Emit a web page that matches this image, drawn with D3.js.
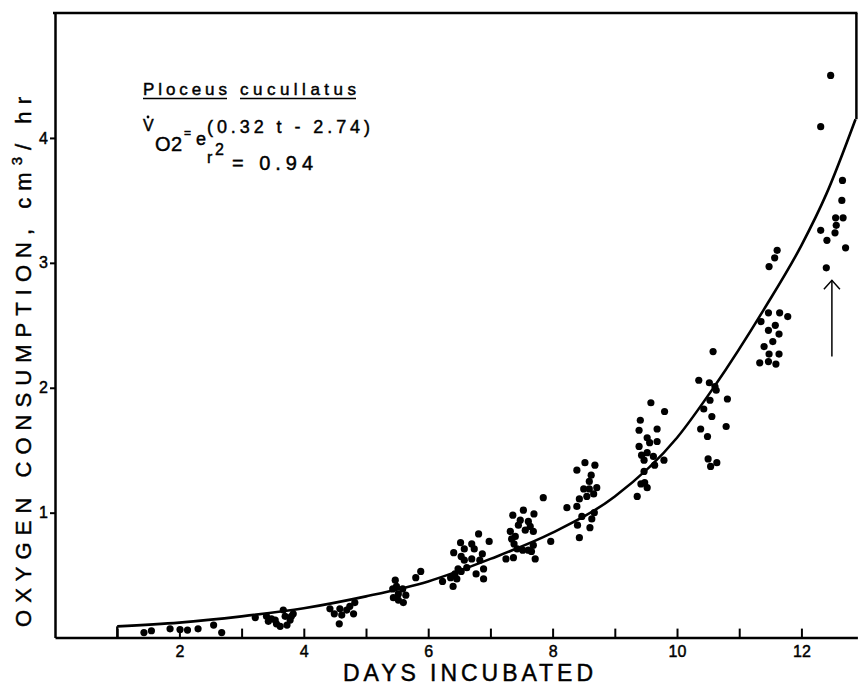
<!DOCTYPE html>
<html><head><meta charset="utf-8">
<script src="https://cdn.jsdelivr.net/npm/d3@7"></script>
<style>body{margin:0;background:#fff}svg{display:block}text{font-family:"Liberation Sans",Arial,sans-serif;fill:#000;stroke:#000;stroke-width:0.45px}</style>
</head><body><svg id="c" width="858" height="689"></svg>
<script>
// Measured points: day incubated
const days = [
  1.43,1.55,1.85,2.01,2.13,2.30,2.55,2.68,
  3.22,3.40,3.43,3.48,3.54,3.56,3.62,3.67,3.70,3.73,3.78,3.80,3.83,
  4.42,4.49,4.57,4.58,4.61,4.69,4.74,4.80,4.82,
  5.43,5.44,5.47,5.49,5.52,5.52,5.59,5.60,5.64,5.80,5.88,
  6.81,6.98,6.52,6.70,6.58,6.74,6.41,6.87,6.53,6.70,6.58,6.83,6.89,6.48,6.62,6.43,6.53,6.77,6.36,6.46,6.89,6.23,6.40,
  7.85,7.53,7.36,7.70,7.48,7.61,7.45,7.64,7.32,7.56,7.69,7.40,7.34,7.97,7.38,7.69,7.43,7.61,7.52,7.37,7.25,7.72,7.66,
  8.52,8.68,8.39,8.62,8.59,8.50,8.59,8.71,8.66,8.55,8.43,8.39,8.23,8.67,8.47,8.63,8.40,8.60,8.43,
  9.58,9.80,9.41,9.39,9.68,9.52,9.68,9.56,9.39,9.43,9.52,9.62,9.47,9.79,9.64,9.47,9.42,9.48,9.52,9.36,
  10.58,10.35,10.52,10.61,10.63,10.81,10.53,10.43,10.56,10.79,10.38,10.49,10.50,10.64,10.54,
  11.61,11.57,11.48,11.47,11.65,11.78,11.35,11.58,11.47,11.64,11.54,11.40,11.48,11.64,11.33,11.47,11.59,
  12.47,12.31,12.66,12.65,12.55,12.67,12.56,12.31,12.54,12.41,12.71,12.40
];
// Measured points: oxygen consumption (cm3/hr)
const oxygen = [
  0.04,0.055,0.07,0.065,0.06,0.07,0.10,0.04,
  0.16,0.17,0.13,0.15,0.14,0.11,0.09,0.22,0.17,0.10,0.14,0.17,0.19,
  0.23,0.19,0.11,0.23,0.18,0.22,0.25,0.19,0.28,
  0.39,0.32,0.46,0.41,0.35,0.30,0.39,0.28,0.34,0.48,0.53,
  0.83,0.77,0.76,0.75,0.71,0.71,0.68,0.67,0.65,0.63,0.62,0.62,0.55,0.55,0.56,0.51,0.53,0.51,0.48,0.47,0.47,0.45,0.41,
  1.12,1.02,0.98,0.99,0.94,0.93,0.90,0.89,0.85,0.86,0.85,0.81,0.79,0.77,0.75,0.74,0.71,0.70,0.70,0.64,0.63,0.63,0.69,
  1.40,1.38,1.34,1.30,1.25,1.19,1.19,1.20,1.15,1.13,1.11,1.05,1.04,1.00,0.97,0.95,0.90,0.88,0.80,
  1.88,1.81,1.74,1.66,1.67,1.60,1.57,1.56,1.53,1.46,1.48,1.45,1.42,1.42,1.38,1.33,1.23,1.24,1.20,1.13,
  2.29,2.06,2.04,2.01,1.98,1.91,1.90,1.83,1.77,1.69,1.67,1.61,1.43,1.40,1.37,
  3.10,3.04,2.97,2.60,2.60,2.57,2.53,2.50,2.46,2.43,2.37,2.33,2.27,2.27,2.20,2.21,2.19,
  4.50,4.09,3.66,3.50,3.36,3.36,3.30,3.26,3.24,3.18,3.12,2.96
];
// Fitted curve
const curveDays = [1,2,3,4,5,6,7,8,9,10,10.6,11.4,12,12.4,12.87];
const curveOxygen = [0.09,0.12,0.17,0.235,0.33,0.45,0.63,0.84,1.13,1.60,2.01,2.63,3.14,3.55,4.15];
const xTickValues = [1,2,3,4,5,6,7,8,9,10,11,12];
const xTickLabels = ["","2","","4","","6","","8","","10","","12"];
const yTickValues = [1,2,3,4];
const yTickLabels = ["1","2","3","4"];
const arrowDay = 12.49, arrowBase = 2.25, arrowTip = 2.86;
const speciesWords = ["Ploceus","cucullatus"];
const xTitle = "DAYS INCUBATED";

const svg = d3.select("#c");
const W = 858, H = 689;
const m = {left:55, top:13, right:0.6, bottom:51.4};
const x = d3.scaleLinear().domain([0,12.9]).range([m.left, W-m.right]);
const y = d3.scaleLinear().domain([0,5]).range([H-m.bottom, m.top]);

// frame: top & partial right
svg.append("line").attr("x1",x(0)-2).attr("x2",x(12.9)).attr("y1",y(5)).attr("y2",y(5))
  .attr("stroke","#000").attr("stroke-width",2.5);
svg.append("line").attr("x1",x(12.9)-1).attr("x2",x(12.9)-1).attr("y1",y(5)).attr("y2",y(curveOxygen[curveOxygen.length-1]))
  .attr("stroke","#000").attr("stroke-width",2.5);

// x axis
const xAxis = d3.axisBottom(x).tickValues(xTickValues).tickSizeInner(-9).tickSizeOuter(0).tickPadding(8)
  .tickFormat((d,i)=>xTickLabels[i]);
const gx = svg.append("g").attr("transform",`translate(0,${y(0)})`).call(xAxis);
gx.select(".domain").attr("stroke-width",2.5);
gx.selectAll(".tick line").attr("stroke-width",2);
gx.selectAll(".tick text").style("font-size","16px").attr("fill","#000");

// y axis
const yAxis = d3.axisLeft(y).tickValues(yTickValues).tickSizeInner(5).tickSizeOuter(0).tickPadding(2)
  .tickFormat((d,i)=>yTickLabels[i]);
const gy = svg.append("g").attr("transform",`translate(${x(0)},0)`).call(yAxis);
gy.select(".domain").attr("stroke-width",2.5);
gy.selectAll(".tick line").attr("stroke-width",2);
gy.selectAll(".tick text").style("font-size","16px").attr("fill","#000");

// curve start riser
svg.append("line").attr("x1",x(curveDays[0])).attr("x2",x(curveDays[0]))
  .attr("y1",y(0)).attr("y2",y(curveOxygen[0])).attr("stroke","#000").attr("stroke-width",2.2);
// fitted curve
const line = d3.line().x(d=>x(d[0])).y(d=>y(d[1])).curve(d3.curveMonotoneX);
svg.append("path").datum(curveDays.map((d,i)=>[d,curveOxygen[i]]))
  .attr("d",line).attr("fill","none").attr("stroke","#000").attr("stroke-width",2.6);

// points
svg.append("g").selectAll("circle").data(days.map((d,i)=>[d,oxygen[i]])).join("circle")
  .attr("cx",d=>x(d[0])).attr("cy",d=>y(d[1])).attr("r",3.6).attr("fill","#000");

// arrow
const ax = x(arrowDay);
svg.append("line").attr("x1",ax).attr("x2",ax).attr("y1",y(arrowBase)).attr("y2",y(arrowTip))
  .attr("stroke","#000").attr("stroke-width",1.5);
svg.append("path").attr("d",`M${ax-8},${y(arrowTip)+9}L${ax},${y(arrowTip)}L${ax+8},${y(arrowTip)+9}`)
  .attr("fill","none").attr("stroke","#000").attr("stroke-width",1.5);

// axis titles
svg.append("text").attr("x",343).attr("y",681).attr("textLength",250).attr("lengthAdjust","spacing")
  .style("font-size","23px").text(xTitle);
const yt = svg.append("text").attr("transform","translate(31,627) rotate(-90)")
  .attr("textLength",530).attr("lengthAdjust","spacing").style("font-size","22px");
yt.append("tspan").text("OXYGEN CONSUMPTION, cm");
yt.append("tspan").attr("dy",-9).style("font-size","15px").text("3");
yt.append("tspan").attr("dy",9).text("/ hr");

// annotation
svg.append("text").attr("x",143).attr("y",95).attr("textLength",84).attr("lengthAdjust","spacing")
  .style("font-size","17px").text(speciesWords[0]);
svg.append("text").attr("x",240).attr("y",95).attr("textLength",116).attr("lengthAdjust","spacing")
  .style("font-size","17px").text(speciesWords[1]);
svg.append("line").attr("x1",143).attr("x2",227).attr("y1",98.5).attr("y2",98.5).attr("stroke","#000").attr("stroke-width",1.4);
svg.append("line").attr("x1",240).attr("x2",356).attr("y1",98.5).attr("y2",98.5).attr("stroke","#000").attr("stroke-width",1.4);

svg.append("text").attr("x",143).attr("y",131).style("font-size","16px").text("V");
svg.append("circle").attr("cx",148).attr("cy",117).attr("r",1.4).attr("fill","#000");
svg.append("text").attr("x",155).attr("y",151).attr("textLength",27).attr("lengthAdjust","spacing").style("font-size","20px").text("O2");
svg.append("text").attr("x",184).attr("y",137).style("font-size","12px").text("=");
svg.append("text").attr("x",196).attr("y",145).style("font-size","18px").text("e");
svg.append("text").attr("x",207).attr("y",133).attr("textLength",163).attr("lengthAdjust","spacing").style("font-size","18px").text("(0.32 t - 2.74)");
svg.append("text").attr("x",207).attr("y",163).style("font-size","16px").text("r");
svg.append("text").attr("x",215).attr("y",155).style("font-size","16px").text("2");
svg.append("text").attr("x",232).attr("y",170).attr("textLength",81).attr("lengthAdjust","spacing").style("font-size","20px").text("= 0.94");
</script></body></html>
